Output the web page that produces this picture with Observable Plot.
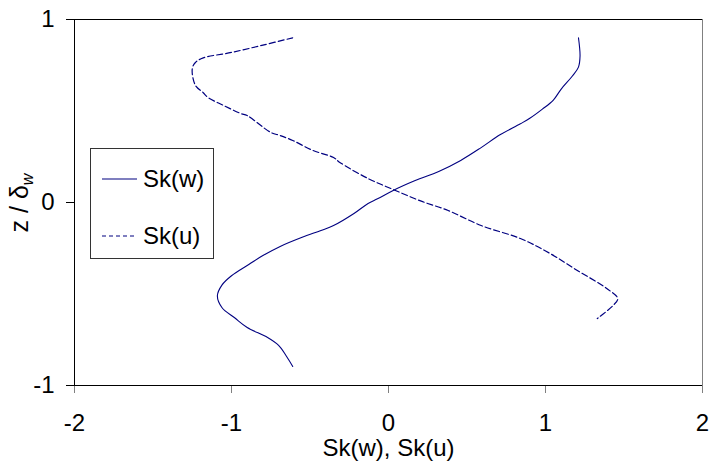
<!DOCTYPE html>
<html>
<head>
<meta charset="utf-8">
<script src="https://cdn.jsdelivr.net/npm/d3@7"></script>
<script src="https://cdn.jsdelivr.net/npm/@observablehq/plot@0.6"></script>
<style>
  html, body { margin: 0; padding: 0; background: white; }
  #chart { width: 711px; height: 465px; }
</style>
</head>
<body>
<div id="chart"></div>
<script>
// Sk(w) profile: skewness values and heights z/δw
const skwX = [1.21, 1.22, 1.21, 1.17, 1.10, 1.05, 0.98, 0.90, 0.84, 0.71, 0.59, 0.46, 0.32, 0.17, 0.03, -0.07, -0.13, -0.22, -0.35, -0.43, -0.55, -0.69, -0.80, -0.90, -1.00, -1.06, -1.09, -1.06, -0.98, -0.90, -0.77, -0.70, -0.65, -0.61];
const skwZ = [0.90, 0.80, 0.74, 0.69, 0.62, 0.56, 0.51, 0.46, 0.43, 0.37, 0.30, 0.23, 0.17, 0.12, 0.066, 0.02, -0.005, -0.06, -0.126, -0.153, -0.19, -0.24, -0.29, -0.344, -0.40, -0.45, -0.51, -0.575, -0.63, -0.683, -0.738, -0.781, -0.84, -0.896];
// Sk(u) profile
const skuX = [-0.61, -0.80, -1.00, -1.18, -1.23, -1.25, -1.23, -1.18, -1.15, -1.05, -0.94, -0.90, -0.75, -0.69, -0.61, -0.48, -0.35, -0.31, -0.13, 0.03, 0.20, 0.38, 0.59, 0.84, 1.03, 1.20, 1.39, 1.46, 1.43, 1.33];
const skuZ = [0.90, 0.86, 0.82, 0.79, 0.765, 0.73, 0.64, 0.60, 0.574, 0.53, 0.486, 0.475, 0.383, 0.366, 0.339, 0.284, 0.246, 0.219, 0.131, 0.071, 0.01, -0.044, -0.126, -0.197, -0.279, -0.37, -0.47, -0.525, -0.563, -0.634];
const xTicks = [-2, -1, 0, 1, 2];
const yTicks = [-1, 0, 1];
const seriesNames = ["Sk(w)", "Sk(u)"];
const xLabel = "Sk(w), Sk(u)";

const lineColor = "#000080";
const skw = skwX.map((x, i) => ({x, z: skwZ[i]}));
const sku = skuX.map((x, i) => ({x, z: skuZ[i]}));

const fontFamily = "'Liberation Sans', Arial, sans-serif";
const fs = 24;
const chart = Plot.plot({
  width: 711,
  height: 465,
  marginTop: 19,
  marginRight: 9,
  marginBottom: 80,
  marginLeft: 74,
  style: {fontFamily, fontSize: fs + "px", background: "white", color: "black"},
  x: {domain: [-2, 2]},
  y: {domain: [-1, 1]},
  marks: [
    Plot.ruleY([1], {stroke: "black"}),
    Plot.ruleX([2], {stroke: "#808080"}),
    Plot.axisX({ticks: xTicks, tickSize: 8, tickPadding: 20, stroke: "#808080", fill: "black", fontSize: fs,
      tickFormat: d => String(d).replace("−", "-"), label: xLabel, labelAnchor: "center", labelArrow: "none", labelOffset: 70}),
    Plot.axisY({ticks: yTicks, tickSize: 8, tickPadding: 12, stroke: "black", fill: "black", fontSize: fs,
      tickFormat: d => String(d), label: null}),
    Plot.ruleX([-2], {stroke: "black"}),
    Plot.ruleY([-1], {stroke: "black"}),
    Plot.line(skw, {x: "x", y: "z", stroke: lineColor, strokeWidth: 1.1, curve: "catmull-rom"}),
    Plot.line(sku, {x: "x", y: "z", stroke: lineColor, strokeWidth: 1.2, strokeDasharray: "6,3", curve: "catmull-rom"})
  ]
});
document.getElementById("chart").appendChild(chart);

const svg = d3.select(chart);
// y axis label with subscript
const yl = svg.append("text")
  .attr("transform", "translate(28,203) rotate(-90)")
  .attr("text-anchor", "middle")
  .attr("font-family", fontFamily)
  .attr("font-size", 25)
  .attr("fill", "black");
yl.append("tspan").text("z / δ");
yl.append("tspan").attr("font-style", "italic").attr("font-size", 16).attr("dy", 5).text("w");

// legend
const lg = svg.append("g").attr("font-family", fontFamily).attr("font-size", fs).attr("text-anchor", "start");
lg.append("rect").attr("x", 90.5).attr("y", 148.5).attr("width", 123).attr("height", 110)
  .attr("fill", "white").attr("stroke", "#333");
seriesNames.forEach((name, i) => {
  const yy = 179 + i * 57;
  lg.append("line").attr("x1", 102).attr("x2", 137).attr("y1", yy).attr("y2", yy)
    .attr("stroke", lineColor).attr("stroke-width", 1.1)
    .attr("stroke-dasharray", i === 1 ? "4,3" : null);
  lg.append("text").attr("x", 143).attr("y", yy).attr("dy", "0.35em").attr("fill", "black").text(name);
});
</script>
</body>
</html>
